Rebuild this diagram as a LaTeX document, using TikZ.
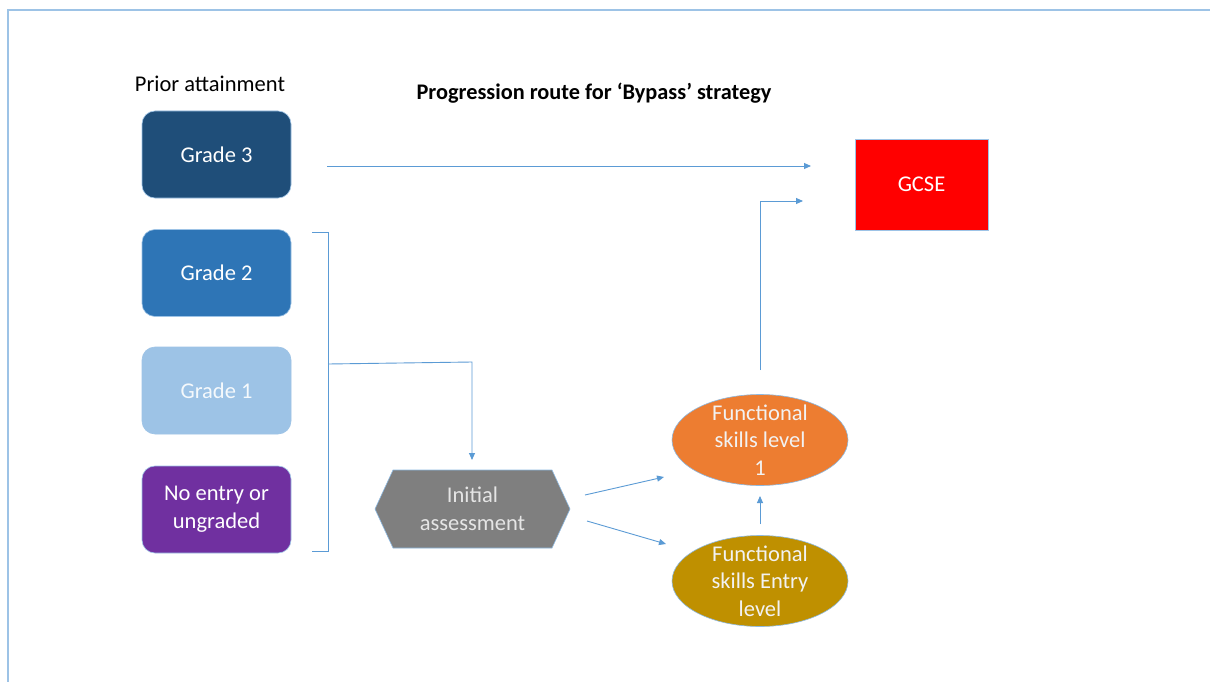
\documentclass[tikz,border=0pt]{standalone}
\usepackage{fontspec}
\setmainfont{Carlito}
\usetikzlibrary{shapes.geometric,arrows.meta}
\definecolor{frameblue}{HTML}{9DC3E6}
\definecolor{lineblue}{HTML}{5B9BD5}
\definecolor{gthree}{HTML}{1F4E79}
\definecolor{gtwo}{HTML}{2E75B6}
\definecolor{gone}{HTML}{9DC3E6}
\definecolor{gnone}{HTML}{7030A0}
\definecolor{orangeF}{HTML}{ED7D31}
\definecolor{goldF}{HTML}{BF9000}
\definecolor{greyF}{HTML}{7F7F7F}
\tikzset{
  grade/.style={rounded corners=13pt, minimum width=149pt, minimum height=87pt, draw=lineblue!60, line width=0.6pt, text=white, font=\fontsize{22.5}{27}\selectfont, align=center},
  conn/.style={draw=lineblue, line width=0.9pt, -{Triangle[length=7pt,width=6pt]}},
  plain/.style={draw=lineblue, line width=0.9pt},
  oval/.style={ellipse, minimum width=176pt, minimum height=91pt, inner xsep=0pt, inner ysep=-12pt, draw=lineblue!70, line width=0.6pt, text=white!95!black, font=\fontsize{22.5}{27.5}\selectfont, align=center}
}
\begin{document}
\begin{tikzpicture}[x=1pt,y=-1pt]
\useasboundingbox (0,0) rectangle (1210,682);
\fill[white] (0,0) rectangle (1210,682);
\draw[frameblue, line width=2pt] (8,682) -- (8,10) -- (1210,10);
\node[font=\fontsize{22.5}{27}\selectfont] (prior) at (210,84) {Prior attainment};
\node[font=\bfseries\fontsize{22.3}{26}\selectfont] (title) at (594,93) {Progression route for ‘Bypass’ strategy};
\node[grade, fill=gthree] (g3) at (216.5,154.5) {Grade 3};
\node[grade, fill=gtwo] (g2) at (216.5,273) {Grade 2};
\node[grade, fill=gone, text=white!90!gone] (g1) at (216.5,390.5) {Grade 1};
\node[grade, fill=gnone, font=\fontsize{22.5}{28}\selectfont] (g0) at (216.5,509.5) {No entry or\\ungraded};
\node[fill=red, draw=lineblue!60, line width=0.6pt, minimum width=133pt, minimum height=91pt, text=white, font=\fontsize{22.5}{27}\selectfont] (gcse) at (921.5,184.5) {GCSE};
\fill[greyF] (375,509) -- (393,470) -- (552,470) -- (570,509) -- (552,548) -- (393,548) -- cycle;
\draw[lineblue!70, line width=0.6pt] (375,509) -- (393,470) -- (552,470) -- (570,509) -- (552,548) -- (393,548) -- cycle;
\node[text=white!90!black, font=\fontsize{22.5}{28}\selectfont, align=center] (ia) at (472.5,509) {Initial\\assessment};
\node[oval, fill=orangeF] (fs1) at (760,440) {Functional\\skills level\\1};
\node[oval, fill=goldF] (fse) at (760,581) {Functional\\skills Entry\\level};
\coordinate (b1) at (312,232);
\coordinate (b2) at (328,232);
\coordinate (b3) at (328,551);
\coordinate (b4) at (312,551);
\coordinate (bm) at (328,364);
\coordinate (iaTop) at (472,460);
\draw[plain] (b1) -- (b2) -- (b3) -- (b4);
\draw[conn] (bm) -- (472,362) -- (iaTop);
\coordinate (g3s) at (327,166);
\coordinate (g3e) at (811,166);
\draw[conn] (g3s) -- (g3e);
\coordinate (a1s) at (585,495);
\coordinate (a1e) at (664,477);
\coordinate (a2s) at (587,521);
\coordinate (a2e) at (666,544);
\draw[conn] (a1s) -- (a1e);
\draw[conn] (a2s) -- (a2e);
\coordinate (u1s) at (760,524);
\coordinate (u1e) at (760,496);
\draw[conn] (u1s) -- (u1e);
\coordinate (u2s) at (760,370);
\coordinate (u2e) at (803,201);
\draw[conn] (u2s) -- (760,201) -- (u2e);
\end{tikzpicture}
\end{document}
